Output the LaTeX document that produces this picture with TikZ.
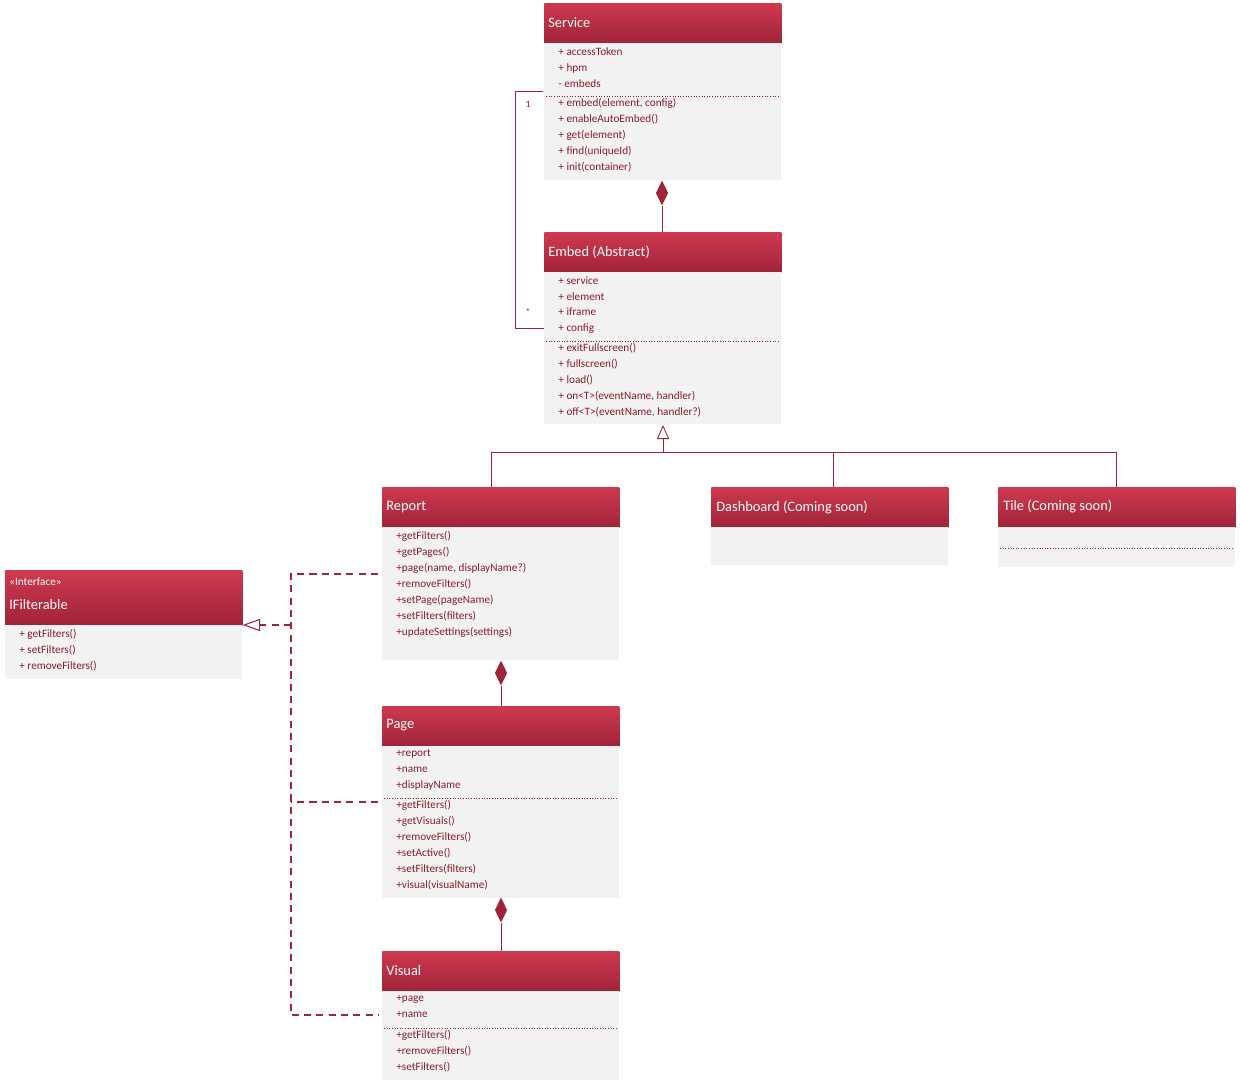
\documentclass[tikz,border=0pt]{standalone}
\usepackage{fontspec}
\setmainfont{Carlito}
\usetikzlibrary{arrows.meta,shapes.geometric}
\definecolor{hdrtop}{HTML}{CE3A4F}
\definecolor{hdrbot}{HTML}{A0233A}
\definecolor{bodyc}{HTML}{F2F2F2}
\definecolor{ink}{HTML}{8B1A2E}
\definecolor{line}{HTML}{A0233A}
\tikzset{
  hdr/.style={anchor=north west,inner sep=0pt,top color=hdrtop,bottom color=hdrbot,draw=none,minimum width=4.74cm},
  bodybox/.style={anchor=north west,inner sep=0pt,fill=bodyc,draw=none,minimum width=4.74cm},
  htext/.style={anchor=west,text=white,font=\fontsize{8.2}{9}\selectfont,inner sep=0pt},
  items/.style={anchor=north west,text=ink,font=\fontsize{6.4}{9.07}\selectfont,align=left,inner sep=0pt},
  sep/.style={draw=ink,densely dotted,line width=0.5pt},
  conn/.style={draw=line,line width=0.5pt},
  rdash/.style={draw=line,line width=0.6pt,dash pattern=on 4pt off 3pt},
  comp/.style={diamond,fill=line,draw=none,minimum width=0.25cm,minimum height=0.5cm,inner sep=0pt},
}
\begin{document}
\begin{tikzpicture}[x=0.02cm,y=-0.02cm]
\useasboundingbox (0,0) rectangle (1240,1086);
% Service
\node[hdr,minimum height=0.8cm] (svc) at (544,3) {};
\node[htext] (svct) at (548,23) {Service};
\node[bodybox,minimum height=2.74cm] (svcb) at (544,43) {};
\node[items] (svca) at (558,47) {+ accessToken\\+ hpm\\- embeds};
\draw[sep] (546,96) -- (779,96);
\node[items] (svcm) at (558,98) {+ embed(element, config)\\+ enableAutoEmbed()\\+ get(element)\\+ find(uniqueId)\\+ init(container)};
% Embed
\node[hdr,minimum height=0.8cm] (emb) at (544,232) {};
\node[htext] (embt) at (548,252) {Embed (Abstract)};
\node[bodybox,minimum height=3.04cm] (embb) at (544,272) {};
\node[items] (emba) at (558,276) {+ service\\+ element\\+ iframe\\+ config};
\draw[sep] (546,341) -- (779,341);
\node[items] (embm) at (558,343) {+ exitFullscreen()\\+ fullscreen()\\+ load()\\+ on<T>(eventName, handler)\\+ off<T>(eventName, handler?)};
% Report
\node[hdr,minimum height=0.8cm] (rep) at (382,487) {};
\node[htext] (rept) at (386,507) {Report};
\node[bodybox,minimum height=2.66cm] (repb) at (382,527) {};
\node[items] (repm) at (396,531) {+getFilters()\\+getPages()\\+page(name, displayName?)\\+removeFilters()\\+setPage(pageName)\\+setFilters(filters)\\+updateSettings(settings)};
% Dashboard
\node[hdr,minimum height=0.8cm] (dash) at (711,487) {};
\node[htext] (dasht) at (716,507) {Dashboard (Coming soon)};
\node[bodybox,minimum height=0.76cm] (dashb) at (711,527) {};
% Tile
\node[hdr,minimum height=0.8cm] (tile) at (998,487) {};
\node[htext] (tilet) at (1003,506) {Tile (Coming soon)};
\node[bodybox,minimum height=0.8cm] (tileb) at (998,527) {};
\draw[sep] (1000,548) -- (1234,548);
% IFilterable
\node[hdr,minimum height=1.1cm] (ifl) at (5,570) {};
\node[htext,font=\fontsize{6.4}{8}\selectfont] (iflst) at (9,582) {<<Interface>>};
\node[htext] (iflt) at (9,605) {IFilterable};
\node[bodybox,minimum height=1.08cm] (iflb) at (5,625) {};
\node[items] (iflm) at (19,629) {+ getFilters()\\+ setFilters()\\+ removeFilters()};
% Page
\node[hdr,minimum height=0.8cm] (page) at (382,706) {};
\node[htext] (paget) at (386,725) {Page};
\node[bodybox,minimum height=3.04cm] (pageb) at (382,746) {};
\node[items] (pagea) at (396,749) {+report\\+name\\+displayName};
\draw[sep] (384,798) -- (618,798);
\node[items] (pagem) at (396,800) {+getFilters()\\+getVisuals()\\+removeFilters()\\+setActive()\\+setFilters(filters)\\+visual(visualName)};
% Visual
\node[hdr,minimum height=0.8cm] (vis) at (382,951) {};
\node[htext] (vist) at (386,971) {Visual};
\node[bodybox,minimum height=1.78cm] (visb) at (382,991) {};
\node[items] (visa) at (396,995) {+page\\+name};
\draw[sep] (384,1028) -- (618,1028);
\node[items] (vism) at (396,1030) {+getFilters()\\+removeFilters()\\+setFilters()};
% compositions
\node[comp] (d1) at (662,193) {};
\draw[conn] (d1.south) -- (emb.north -| d1.south);
\node[comp] (d2) at (501,673) {};
\draw[conn] (d2.south) -- (page.north -| d2.south);
\node[comp] (d3) at (501,910) {};
\draw[conn] (d3.south) -- (vis.north -| d3.south);
% aggregation Service - Embed
\coordinate (a1) at (543,91);
\coordinate (a2) at (515,91);
\coordinate (a3) at (515,328);
\coordinate (a4) at (544,328);
\draw[conn] (a1) -- (a2) -- (a3) -- (a4);
\node[text=ink,font=\fontsize{5.5}{6}\selectfont] (m1) at (528,104) {1};
\node[text=ink,font=\fontsize{5.5}{6}\selectfont] (m2) at (528,312) {*};
% inheritance
\coordinate (ib) at (663,452);
\draw[conn,-{Triangle[open,width=7pt,length=8pt]}] (ib) -- (663,425);
\draw[conn] (rep.north -| 491,0) |- (ib) -| (dash.north -| 833,0);
\draw[conn] (ib) -| (tile.north -| 1116,0);
% realization
\coordinate (rv) at (291,625);
\draw[rdash] (378,574) -- (291,574) -- (291,1015) -- (378,1015);
\draw[rdash] (378,802) -- (291,802);
\draw[rdash,-{Triangle[open,width=7pt,length=10pt]}] (rv) -- (iflb.north east);
\end{tikzpicture}
\end{document}
